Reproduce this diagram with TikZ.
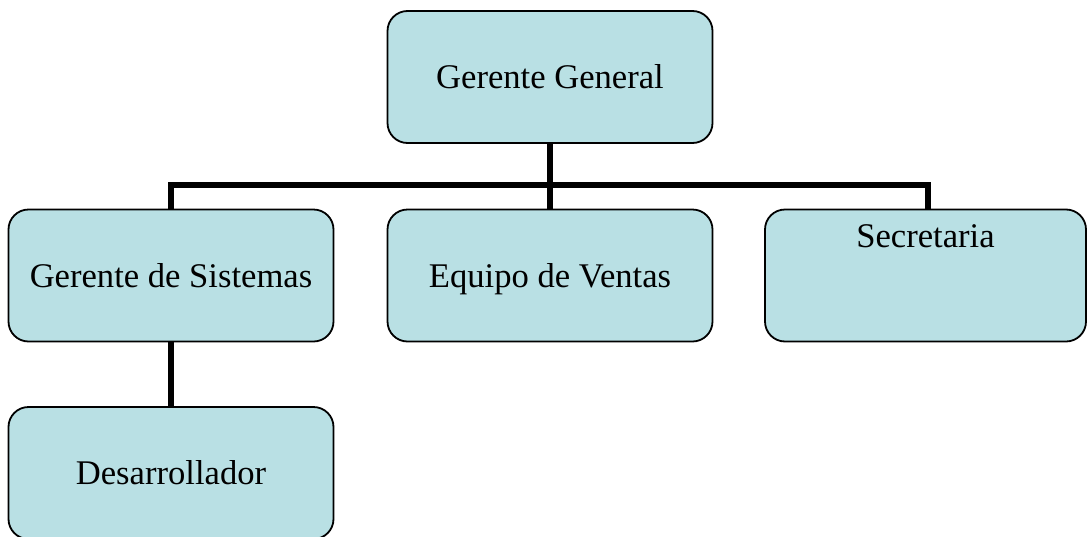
\documentclass[tikz,border=0pt]{standalone}
\usepackage{fontspec}
\setmainfont{Liberation Serif}
\definecolor{boxfill}{RGB}{185,224,228}
\begin{document}
\begin{tikzpicture}[x=1pt,y=-1pt,
  orgbox/.style={draw=black, line width=1.8pt, fill=boxfill, rounded corners=20pt,
    minimum width=325pt, minimum height=132pt, inner sep=0pt,
    text height=23pt, text depth=0pt,
    font=\fontsize{34.6}{40}\selectfont},
  lbl/.style={inner sep=0pt, text height=23pt, text depth=0pt,
    font=\fontsize{34.6}{40}\selectfont},
  conn/.style={draw=black, line width=5.5pt}]
\useasboundingbox (0,0) rectangle (1087,536);
\coordinate (bus) at (550,185);
\node[orgbox] (gg) at (550,77) {Gerente General};
\node[orgbox] (gs) at (171,275.5) {Gerente de Sistemas};
\node[orgbox] (ev) at (550,275.5) {Equipo de Ventas};
\node[orgbox, minimum width=321pt] (sec) at (925.5,275.5) {};
\node[lbl, anchor=north] (sectxt) at ([yshift=-16pt]sec.north) {Secretaria};
\node[orgbox] (des) at (171,473) {Desarrollador};
\draw[conn] (gs.north) |- (bus) -| ([xshift=2.5pt]sec.north);
\draw[conn] (gg.south) -- (ev.north);
\draw[conn] (gs.south) -- (des.north);
\end{tikzpicture}
\end{document}
